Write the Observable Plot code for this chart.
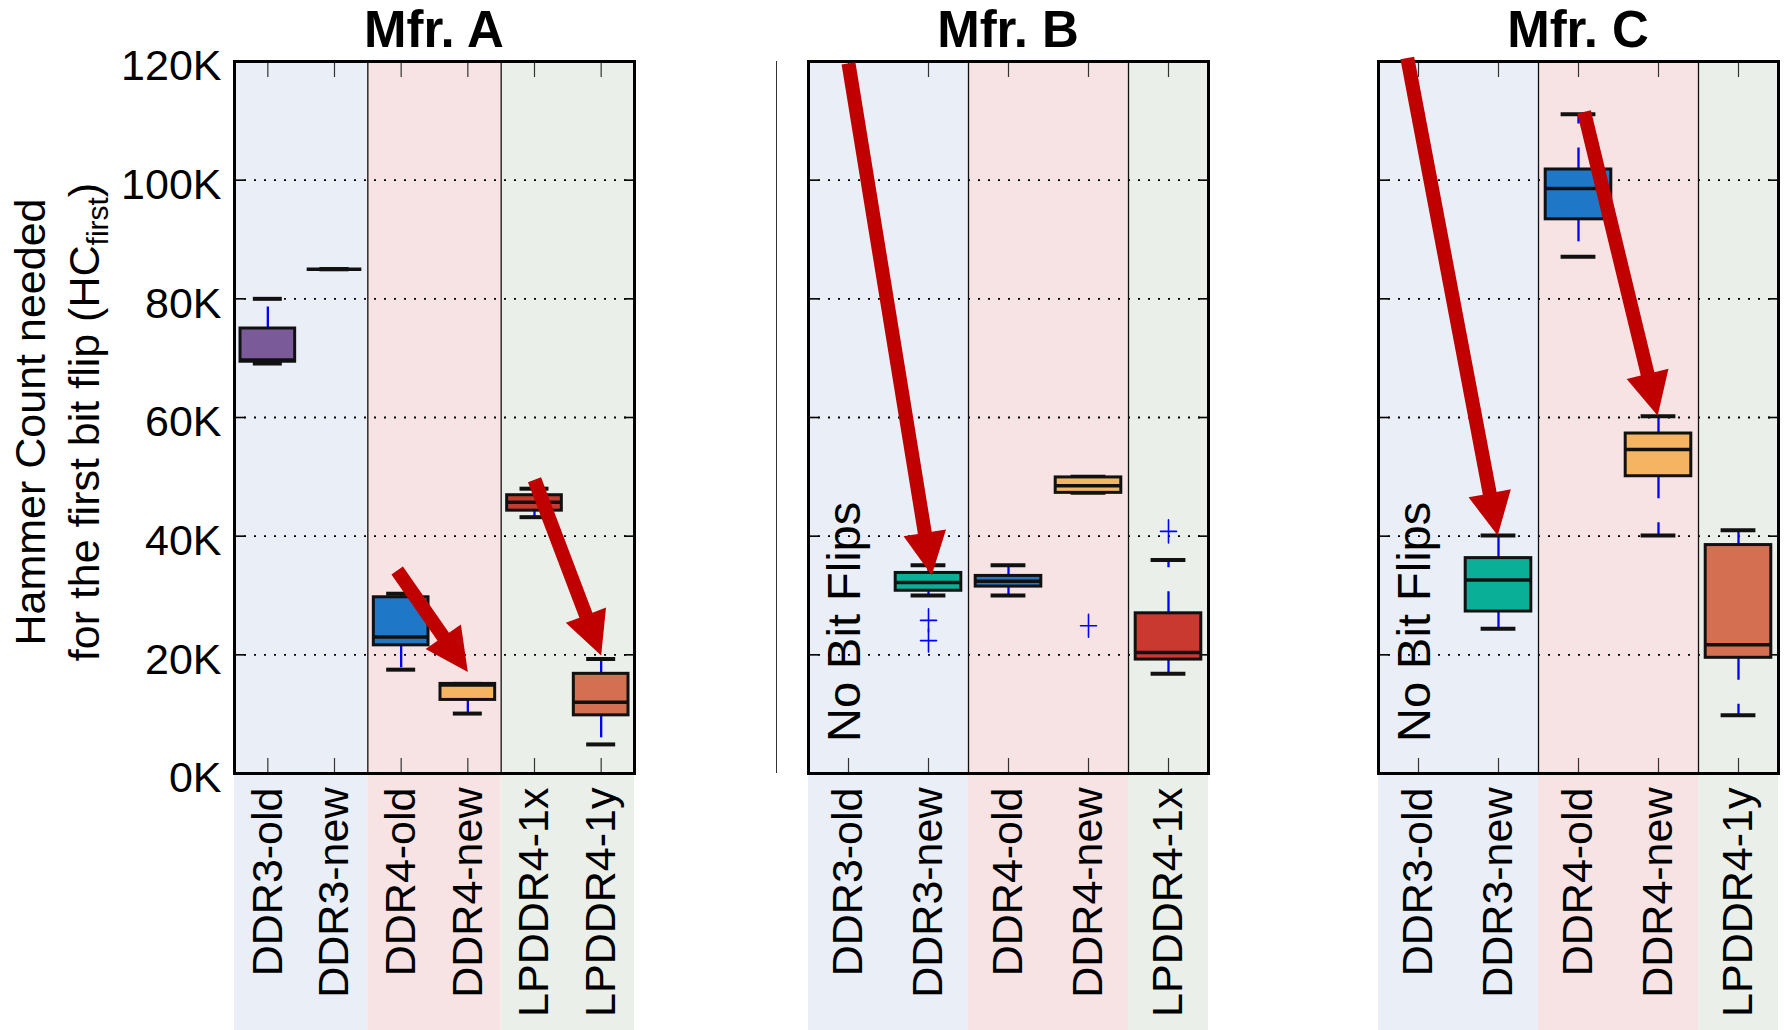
<!DOCTYPE html>
<html><head><meta charset="utf-8">
<script src="https://cdn.jsdelivr.net/npm/d3@7"></script>
<script src="https://cdn.jsdelivr.net/npm/@observablehq/plot@0.6"></script>
<style>
body{margin:0;background:#fff;font-family:"Liberation Sans",Arial,Helvetica,sans-serif;}
#root{position:relative;width:1785px;height:1030px;overflow:hidden;background:#fff;}
.panel{position:absolute;top:0;}
.title{position:absolute;top:4px;height:51px;line-height:51px;font-size:51px;font-weight:bold;text-align:center;color:#000;white-space:nowrap;}
#ytitle{position:absolute;width:520px;height:108px;left:-203px;top:368px;transform:rotate(-90deg);transform-origin:50% 50%;text-align:center;font-size:43px;line-height:54px;color:#000;white-space:nowrap;}
#ytitle sub{font-size:30px;line-height:0;vertical-align:-9px;}
#sep{position:absolute;left:776px;top:61px;width:1.2px;height:712px;background:#333;}
</style></head><body><div id="root"></div><script>
// ---------- data ----------
const yTicks = [0, 20000, 40000, 60000, 80000, 100000, 120000];
const gridValues = [20000, 40000, 60000, 80000, 100000];

// Mfr. A
const catsA = ["DDR3-old", "DDR3-new", "DDR4-old", "DDR4-new", "LPDDR4-1x", "LPDDR4-1y"];
const loA  = [69100, 85000, 17500, 10100, 43200, 4900];
const q1A  = [69400, 85000, 21600, 12400, 44300, 9800];
const medA = [69700, 85000, 23000, 14900, 45700, 12000];
const q3A  = [75000, 85000, 29700, 15100, 46900, 16800];
const hiA  = [80000, 85000, 30300, 15100, 48000, 19300];
const arrowA_x0 = [1.94, 4.0], arrowA_y0 = [34200, 49500];
const arrowA_x1 = [3.0, 5.0], arrowA_y1 = [17100, 19900];

// Mfr. B
const catsB = ["DDR3-old", "DDR3-new", "DDR4-old", "DDR4-new", "LPDDR4-1x"];
const loB  = [null, 30000, 30000, 47300, 16800];
const q1B  = [null, 30800, 31500, 47300, 19200];
const medB = [null, 32200, 32400, 48500, 20400];
const q3B  = [null, 33800, 33300, 49900, 27000];
const hiB  = [null, 35100, 35100, 50000, 36000];
const outCatB = ["DDR3-new", "DDR3-new", "DDR4-new", "LPDDR4-1x"];
const outValB = [25800, 22400, 24900, 40800];
const arrowB_x0 = [0.0], arrowB_y0 = [119700];
const arrowB_x1 = [1.04], arrowB_y1 = [33400];

// Mfr. C
const catsC = ["DDR3-old", "DDR3-new", "DDR4-old", "DDR4-new", "LPDDR4-1y"];
const loC  = [null, 24400, 87100, 40100, 9800];
const q1C  = [null, 27300, 93400, 50100, 19500];
const medC = [null, 32600, 98600, 54600, 21700];
const q3C  = [null, 36300, 101800, 57300, 38500];
const hiC  = [null, 40100, 111100, 60200, 41000];
const arrowC_x0 = [-0.14, 2.07], arrowC_y0 = [120600, 111500];
const arrowC_x1 = [0.99, 2.99], arrowC_y1 = [40100, 60300];

const noFlipText = "No Bit Flips";
const noFlipCat = "DDR3-old";
const noFlipY = 5300;

// ---------- styles ----------
const boxColors = {
  "DDR3-old": "#7b5a9a", "DDR3-new": "#0aaf97", "DDR4-old": "#1f77c8",
  "DDR4-new": "#f5b462", "LPDDR4-1x": "#c9392f", "LPDDR4-1y": "#d47051"
};
const bandColors = {"DDR3": "#eaeef7", "DDR4": "#f7e3e4", "LPDDR4": "#eaf0e9"};
const FONT = "Liberation Sans, Arial, Helvetica, sans-serif";
const H = 1030, MT = 61, MB = 257;
const BOX_HALF = 0.41, CAP_HALF = 0.2175;

function arrowShape(shaftW, headW, headL) {
  return {draw(ctx, l) {
    const s = shaftW / 2, h = headW / 2, b = l - headL;
    ctx.moveTo(-s, 0); ctx.lineTo(-s, -b); ctx.lineTo(-h, -b);
    ctx.lineTo(0, -l); ctx.lineTo(h, -b); ctx.lineTo(s, -b); ctx.lineTo(s, 0);
    ctx.closePath();
  }};
}
const plusShape = {draw(ctx) {
  ctx.moveTo(-8, 0); ctx.lineTo(8, 0); ctx.moveTo(0, -11.5); ctx.lineTo(0, 11.5);
}};

function drawPanel(o) {
  const {cats, lo, q1, med, q3, hi, outCat = [], outVal = [], ax0, ay0, ax1, ay1, noFlip, width, marginLeft, marginRight, yLabels} = o;
  const n = cats.length;
  const idx = d3.range(n);
  const sx = d3.scaleLinear([-0.5, n - 0.5], [marginLeft, width - marginRight]);
  const sy = d3.scaleLinear([0, 120000], [H - MB, MT]);
  const bottomValue = sy.invert(H + 2);
  const stats = idx.filter(i => lo[i] != null).map(i => ({i, lo: lo[i], q1: q1[i], med: med[i], q3: q3[i], hi: hi[i], fill: boxColors[cats[i]]}));
  const fam = cats.map(c => c.split("-")[0]);
  const bands = d3.groups(idx, i => fam[i]).map(([f, is]) => ({fam: f, x1: d3.min(is) - 0.5, x2: d3.max(is) + 0.5}));
  const dividers = bands.slice(1).map(b => b.x1);
  const outs = outCat.map((c, k) => ({i: cats.indexOf(c), v: outVal[k]}));
  const arrows = ax0.map((x0, k) => {
    const px0 = sx(x0), py0 = sy(ay0[k]), px1 = sx(ax1[k]), py1 = sy(ay1[k]);
    return {x0, y0: ay0[k], L: Math.hypot(px1 - px0, py1 - py0), R: Math.atan2(px1 - px0, -(py1 - py0)) * 180 / Math.PI};
  });
  const marks = [
    Plot.rect(bands, {x1: "x1", x2: "x2", y1: bottomValue, y2: 120000, fill: d => bandColors[d.fam]}),
    Plot.gridY(gridValues, {stroke: "#000", strokeOpacity: 1, strokeWidth: 1.8, strokeDasharray: "2,8"}),
    Plot.ruleX(dividers, {stroke: "#111", strokeWidth: 1.3}),
    Plot.axisX({anchor: "top", ticks: idx, tickSize: -15, tickFormat: () => "", label: null, stroke: "#333", strokeWidth: 1.2}),
    Plot.axisX({anchor: "bottom", ticks: idx, tickSize: -15, tickFormat: () => "", label: null, stroke: "#333", strokeWidth: 1.2}),
    Plot.axisX({anchor: "bottom", ticks: idx, tickSize: 0, tickPadding: 14, tickRotate: -90, tickFormat: i => cats[i], fontSize: 43, label: null, fill: "#000"}),
    Plot.axisY({anchor: "left", ticks: yTicks, tickSize: -11, tickFormat: () => "", label: null, strokeWidth: 1.6, stroke: "#000"}),
    Plot.axisY({anchor: "right", ticks: yTicks, tickSize: -11, tickFormat: () => "", label: null, strokeWidth: 1.6, stroke: "#000"}),
    yLabels ? Plot.axisY({anchor: "left", ticks: yTicks, tickSize: 0, tickPadding: 13, tickFormat: d => d / 1000 + "K", fontSize: 43, label: null, dy: 5, fill: "#000"}) : null,
    Plot.link(stats.filter(d => d.hi > d.q3), {x1: "i", x2: "i", y1: "q3", y2: "hi", stroke: "#0000ff", strokeWidth: 2.3, strokeDasharray: "22,24"}),
    Plot.link(stats.filter(d => d.lo < d.q1), {x1: "i", x2: "i", y1: "q1", y2: "lo", stroke: "#0000ff", strokeWidth: 2.3, strokeDasharray: "22,24"}),
    Plot.ruleY(stats, {y: "hi", x1: d => d.i - CAP_HALF, x2: d => d.i + CAP_HALF, stroke: "#111", strokeWidth: 4}),
    Plot.ruleY(stats, {y: "lo", x1: d => d.i - CAP_HALF, x2: d => d.i + CAP_HALF, stroke: "#111", strokeWidth: 4}),
    Plot.rect(stats, {x1: d => d.i - BOX_HALF, x2: d => d.i + BOX_HALF, y1: "q1", y2: "q3", fill: "fill", stroke: "#111", strokeWidth: 3}),
    Plot.ruleY(stats, {y: "med", x1: d => d.i - BOX_HALF, x2: d => d.i + BOX_HALF, stroke: "#111", strokeWidth: 3.5}),
    Plot.vector(outs, {x: "i", y: "v", length: 23, anchor: "start", shape: plusShape, stroke: "#0000ff", strokeWidth: 1.6, fill: "none"}),
    noFlip ? Plot.text([{i: cats.indexOf(noFlipCat), y: noFlipY}], {x: "i", y: "y", text: () => noFlipText, rotate: -90, textAnchor: "start", lineAnchor: "middle", fontSize: 47, fill: "#000", dx: -4}) : null,
    Plot.frame({stroke: "#000", strokeWidth: 3, fill: "none"}),
    ...arrows.map(a => Plot.vector([a], {x: "x0", y: "y0", length: a.L, rotate: a.R, anchor: "start", shape: arrowShape(14, 43, 43), fill: "#c00000", stroke: "none"}))
  ].filter(Boolean);
  return Plot.plot({
    width, height: H, marginLeft, marginRight, marginTop: MT, marginBottom: MB,
    x: {domain: [-0.5, n - 0.5]},
    y: {domain: [0, 120000]},
    color: {type: "identity"},
    style: {fontFamily: FONT, background: "transparent", overflow: "visible", color: "#000"},
    marks
  });
}

const root = document.getElementById("root");
function place(el, left, w) {
  const d = document.createElement("div");
  d.className = "panel"; d.style.left = left + "px"; d.style.width = w + "px";
  d.appendChild(el); root.appendChild(d);
}
place(drawPanel({cats: catsA, lo: loA, q1: q1A, med: medA, q3: q3A, hi: hiA, ax0: arrowA_x0, ay0: arrowA_y0, ax1: arrowA_x1, ay1: arrowA_y1, noFlip: false, width: 640, marginLeft: 234, marginRight: 6, yLabels: true}), 0, 640);
place(drawPanel({cats: catsB, lo: loB, q1: q1B, med: medB, q3: q3B, hi: hiB, outCat: outCatB, outVal: outValB, ax0: arrowB_x0, ay0: arrowB_y0, ax1: arrowB_x1, ay1: arrowB_y1, noFlip: true, width: 425, marginLeft: 18, marginRight: 7, yLabels: false}), 790, 425);
place(drawPanel({cats: catsC, lo: loC, q1: q1C, med: medC, q3: q3C, hi: hiC, ax0: arrowC_x0, ay0: arrowC_y0, ax1: arrowC_x1, ay1: arrowC_y1, noFlip: true, width: 425, marginLeft: 18, marginRight: 7, yLabels: false}), 1360, 425);

function title(text, cx) {
  const t = document.createElement("div");
  t.className = "title"; t.textContent = text;
  t.style.left = (cx - 150) + "px"; t.style.width = "300px";
  root.appendChild(t);
}
title("Mfr. A", 434); title("Mfr. B", 1008); title("Mfr. C", 1578);

const sep = document.createElement("div"); sep.id = "sep"; root.appendChild(sep);
const yt = document.createElement("div"); yt.id = "ytitle";
yt.innerHTML = "Hammer Count needed<br>for the first bit flip (HC<sub>first</sub>)";
root.appendChild(yt);
</script></body></html>
